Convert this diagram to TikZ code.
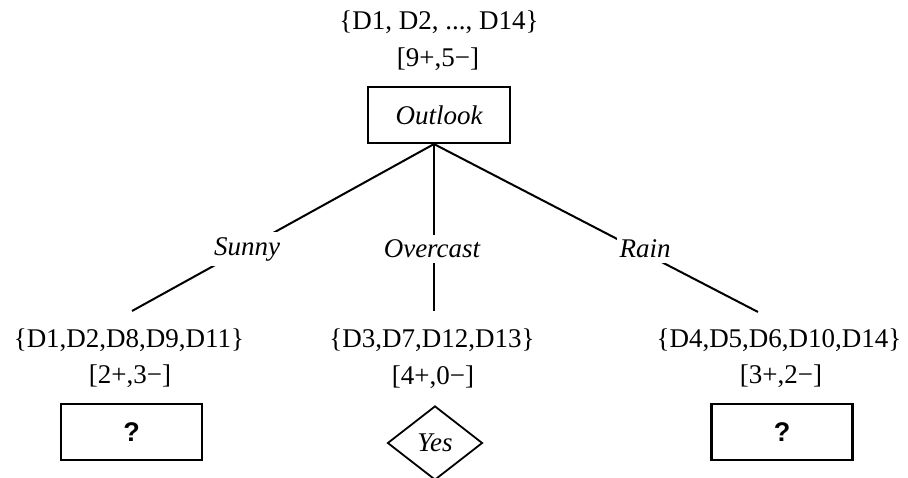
\documentclass[tikz,border=0pt]{standalone}
\usepackage{fontspec}
\setmainfont{Liberation Serif}
\newfontfamily\qfont{Liberation Sans}
\usetikzlibrary{shapes.geometric}

\tikzset{
  attrbox/.style={draw, line width=2.1pt, minimum width=142pt, minimum height=56pt, inner sep=0pt},
  leafbox/.style={draw, line width=2.1pt, minimum width=141pt, minimum height=56pt, inner sep=0pt,
                  font=\qfont\bfseries\fontsize{27}{32}\selectfont},
  leafdiamond/.style={draw, diamond, line width=1.8pt, minimum width=95pt, minimum height=74pt,
                      inner sep=0pt, aspect=1.28},
  setlabel/.style={inner sep=0pt},
  branch/.style={line width=2pt},
  branchlabel/.style={fill=white, inner xsep=3pt, inner ysep=5pt, font=\itshape\fontsize{27}{32}\selectfont},
}

\begin{document}
\begin{tikzpicture}[x=1pt, y=-1pt, font=\fontsize{27}{32}\selectfont]
\useasboundingbox (0,0) rectangle (908,478);
\clip (0,0) rectangle (908,478);

% root: full training set
\node[setlabel] (rootset) at (439,22) {\{D1, D2, ..., D14\}};
\node[setlabel] (rootcount) at (438,59) {[9+,5−]};
\node[attrbox] (outlook) at (439,115) {\itshape Outlook};

% branch end points
\coordinate (sunnyend) at (132,311);
\coordinate (overend) at (434,311);
\coordinate (rainend) at (758,312);

\draw[branch] ([xshift=-5pt]outlook.south) -- (sunnyend);
\draw[branch] ([xshift=-5pt]outlook.south) -- (overend);
\draw[branch] ([xshift=-5pt]outlook.south) -- (rainend);

% branch labels
\node[branchlabel] (sunny) at (247,249) {Sunny};
\node[branchlabel] (overcast) at (432,249) {Overcast};
\node[branchlabel] (rain) at (645,249) {Rain};

% subsets after the split
\node[setlabel] (sunnyset) at (129,340) {\{D1,D2,D8,D9,D11\}};
\node[setlabel] (sunnycount) at (130,376) {[2+,3−]};
\node[setlabel] (overset) at (432,340) {\{D3,D7,D12,D13\}};
\node[setlabel] (overcount) at (433,377) {[4+,0−]};
\node[setlabel] (rainset) at (779,340) {\{D4,D5,D6,D10,D14\}};
\node[setlabel] (raincount) at (781,376) {[3+,2−]};

% leaves
\node[leafbox] (sunnyleaf) at (131.5,432) {?};
\node[leafdiamond] (yesleaf) at (435,443) {\itshape Yes};
\node[leafbox] (rainleaf) at (782,432) {?};
\end{tikzpicture}
\end{document}
